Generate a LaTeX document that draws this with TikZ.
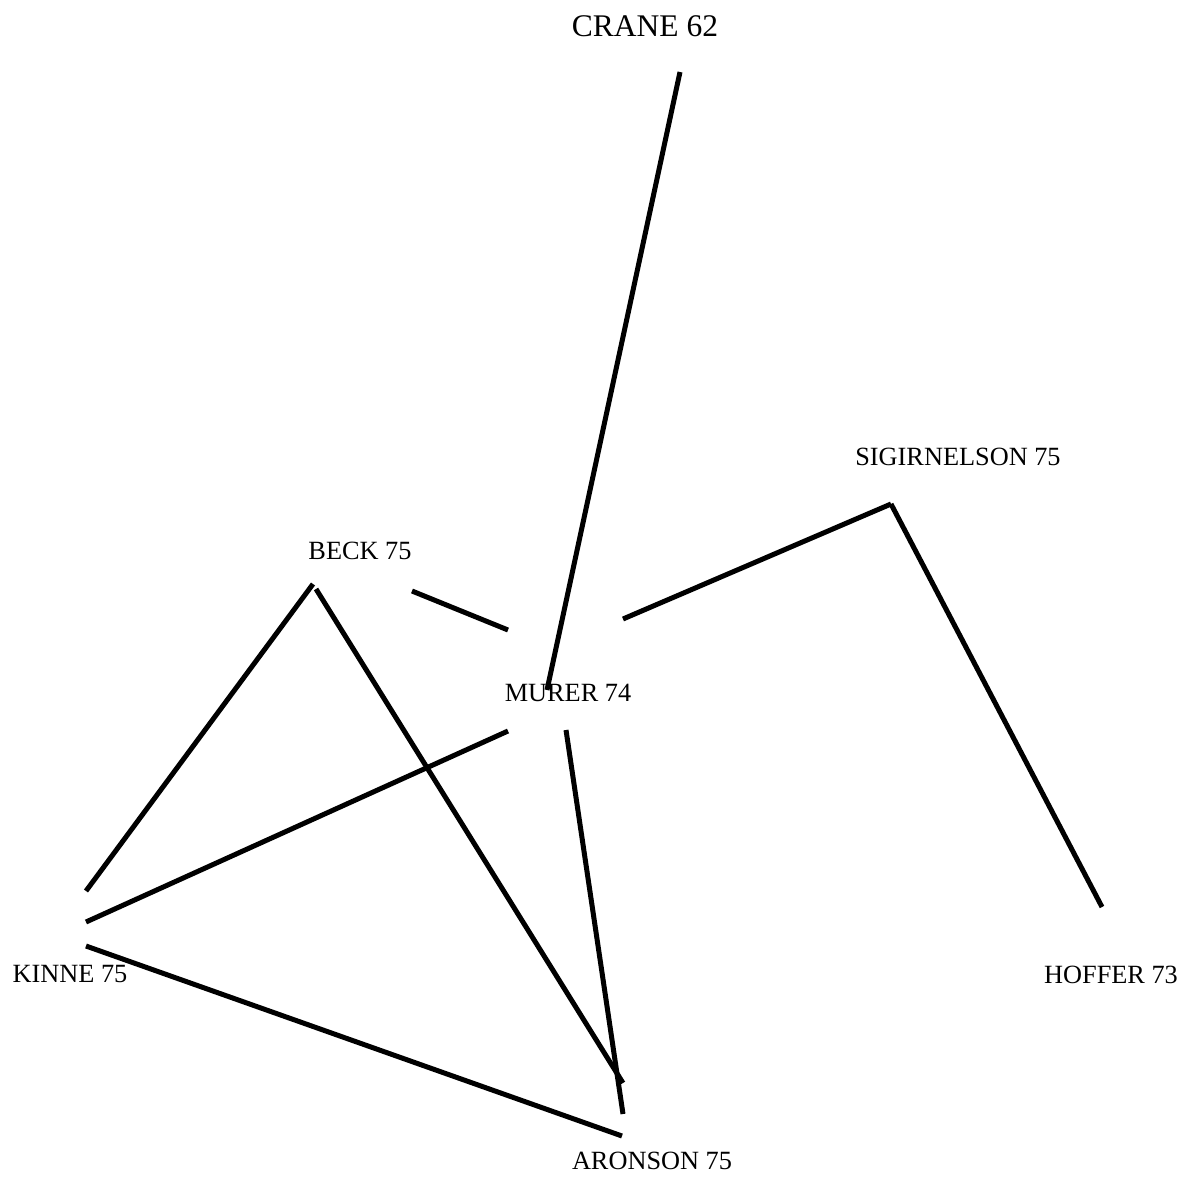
\documentclass[tikz,border=0pt]{standalone}
\usepackage{fontspec}
\setmainfont{Liberation Serif}
\usepackage{tikz}
\usetikzlibrary{positioning,calc}

\begin{document}
\begin{tikzpicture}[x=0.5pt, y=-0.5pt,
    author/.style={anchor=base, inner sep=0pt, font=\fontsize{13.15}{15}\selectfont},
    bigauthor/.style={author, font=\fontsize{15.75}{18}\selectfont},
    link/.style={line width=2.5pt, black}]
    \useasboundingbox (0,0) rectangle (1183,1177);

    % Names
    \node[bigauthor] (crane) at (645,37) {CRANE 62};
    \node[author] (murer)  at (568,701)  {MURER 74};
    \node[author] (beck)   at (360,559)  {BECK 75};
    \node[author] (sigir)  at (958,465)  {SIGIRNELSON 75};
    \node[author] (kinne)  at (70,982)   {KINNE 75};
    \node[author] (hoffer) at (1111,983) {HOFFER 73};
    \node[author] (aronson) at (652,1169) {ARONSON 75};

    % Line ends
    \coordinate (cr-mu) at (680,72);
    \coordinate (mu-cr) at (547,690);
    \coordinate (be-mu) at (412,591);
    \coordinate (mu-be) at (508,630);
    \coordinate (mu-si) at (623,619);
    \coordinate (si-top) at (891,504);
    \coordinate (ho-si) at (1102,907);
    \coordinate (be-ki) at (313,584);
    \coordinate (ki-be) at (86,891);
    \coordinate (be-ar) at (316,589);
    \coordinate (ar-be) at (623,1083);
    \coordinate (mu-ki) at (508,731);
    \coordinate (ki-mu) at (86,922);
    \coordinate (mu-ar) at (566,730);
    \coordinate (ar-mu) at (623,1114);
    \coordinate (ki-ar) at (86,946);
    \coordinate (ar-ki) at (622,1136);

    % Links
    \draw[link] (cr-mu) -- (mu-cr);
    \draw[link] (be-mu) -- (mu-be);
    \draw[link] (mu-si) -- (si-top);
    \draw[link] (si-top) -- (ho-si);
    \draw[link] (be-ki) -- (ki-be);
    \draw[link] (be-ar) -- (ar-be);
    \draw[link] (mu-ki) -- (ki-mu);
    \draw[link] (mu-ar) -- (ar-mu);
    \draw[link] (ki-ar) -- (ar-ki);
\end{tikzpicture}
\end{document}
